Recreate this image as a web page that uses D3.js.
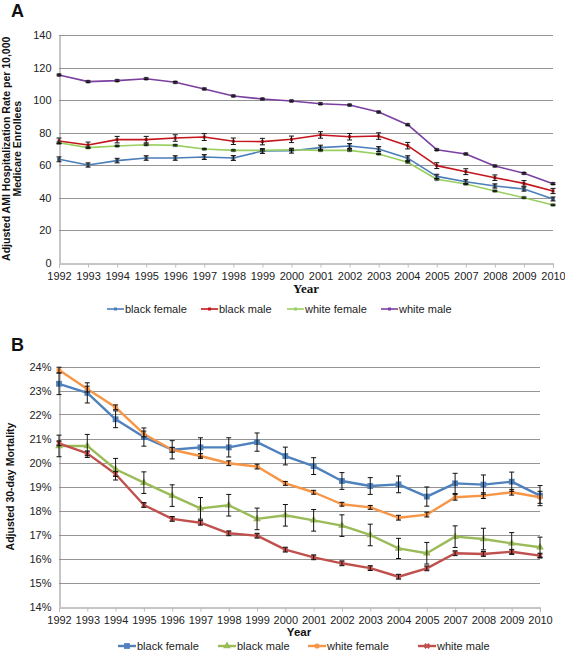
<!DOCTYPE html>
<html><head><meta charset="utf-8">
<script src="https://cdn.jsdelivr.net/npm/d3@7"></script>
<style>
body{margin:0;background:#fff;}
svg{display:block;font-family:"Liberation Sans",Arial,sans-serif;}
</style></head>
<body>
<svg id="chart" width="565" height="654"></svg>
<script>
const years = ["1992","1993","1994","1995","1996","1997","1998","1999","2000","2001","2002","2003","2004","2005","2007","2008","2009","2010"];

// Panel A: Adjusted AMI hospitalization rate per 10,000
const aTicks = [0,20,40,60,80,100,120,140];
const aBlackFemale    = [63.5,60.0,62.7,64.3,64.3,64.9,64.3,68.6,68.8,70.7,71.7,69.8,64.2,53.0,49.7,47.1,45.2,39.1];
const aBlackFemaleErr = [1.5,1.3,1.4,1.4,1.4,1.5,1.5,1.5,1.5,1.5,1.5,1.5,1.5,1.3,1.3,1.3,1.3,1.2];
const aBlackMale      = [74.8,72.3,75.6,75.6,76.6,77.2,74.6,74.4,75.8,78.5,77.4,77.8,71.9,59.6,55.9,52.2,48.7,44.0];
const aBlackMaleErr   = [1.8,1.8,2.0,2.0,2.0,2.1,2.0,2.0,2.0,2.0,2.0,2.0,2.0,1.8,1.8,1.7,1.7,1.6];
const aWhiteFemale    = [73.7,70.7,71.7,72.5,72.1,69.8,69.0,69.0,69.4,69.0,69.0,66.8,61.7,51.2,48.3,44.0,39.9,35.4];
const aWhiteFemaleErr = [0.4,0.4,0.4,0.4,0.4,0.4,0.4,0.4,0.4,0.4,0.4,0.4,0.4,0.4,0.4,0.4,0.4,0.4];
const aWhiteMale      = [115.4,111.3,111.9,113.1,110.9,106.8,102.5,100.6,99.4,97.7,96.9,92.6,84.8,69.4,66.8,59.4,54.9,48.5];
const aWhiteMaleErr   = [0.5,0.5,0.5,0.5,0.5,0.5,0.5,0.5,0.5,0.5,0.5,0.5,0.5,0.5,0.5,0.5,0.5,0.5];

// Panel B: Adjusted 30-day mortality (%)
const bTicks = [14,15,16,17,18,19,20,21,22,23,24];
const bBlackFemale    = [23.28,22.90,21.80,21.06,20.53,20.63,20.63,20.85,20.27,19.85,19.23,19.02,19.09,18.58,19.13,19.08,19.20,18.62];
const bBlackFemaleErr = [0.45,0.42,0.35,0.38,0.38,0.40,0.40,0.38,0.37,0.35,0.35,0.35,0.35,0.40,0.42,0.40,0.40,0.42];
const bBlackMale      = [20.69,20.69,19.72,19.16,18.62,18.09,18.22,17.65,17.80,17.59,17.37,16.98,16.42,16.22,16.91,16.81,16.63,16.47];
const bBlackMaleErr   = [0.45,0.48,0.45,0.45,0.45,0.45,0.45,0.45,0.45,0.45,0.45,0.45,0.42,0.45,0.45,0.45,0.45,0.42];
const bWhiteFemale    = [23.85,23.06,22.30,21.19,20.53,20.27,19.97,19.83,19.13,18.76,18.26,18.13,17.70,17.83,18.55,18.62,18.76,18.55];
const bWhiteFemaleErr = [0.12,0.12,0.10,0.12,0.10,0.10,0.10,0.10,0.08,0.08,0.08,0.08,0.10,0.10,0.12,0.12,0.12,0.25];
const bWhiteMale      = [20.80,20.38,19.52,18.23,17.65,17.49,17.05,16.95,16.37,16.05,15.80,15.60,15.24,15.59,16.22,16.19,16.28,16.12];
const bWhiteMaleErr   = [0.10,0.10,0.10,0.10,0.10,0.10,0.10,0.10,0.10,0.10,0.10,0.10,0.10,0.10,0.10,0.10,0.10,0.10];

const svg = d3.select("#chart");
const SANS = "'Liberation Sans',Arial,sans-serif";

function panel(cfg){
  const g = svg.append("g");
  const x = d3.scalePoint().domain(years).range([cfg.x0, cfg.x1]);
  const y = d3.scaleLinear().domain(cfg.domain).range([cfg.y0, cfg.y1]);

  // gridlines
  g.append("g").selectAll("line").data(cfg.ticks.slice(1)).join("line")
    .attr("x1", cfg.x0).attr("x2", cfg.x1)
    .attr("y1", d=>Math.round(y(d))+0.5).attr("y2", d=>Math.round(y(d))+0.5)
    .attr("stroke", "#959595").attr("stroke-width", 1);

  // y axis
  const ya = g.append("g").attr("transform", `translate(${cfg.x0+0.5},0)`)
    .call(d3.axisLeft(y).tickValues(cfg.ticks).tickSize(0).tickPadding(8).tickFormat(cfg.fmt));
  ya.select(".domain").attr("stroke", "#8c8c8c");
  ya.selectAll("text").attr("font-size", 11).attr("fill", "#222").attr("font-family", SANS);

  // x axis
  const xa = g.append("g").attr("transform", `translate(0,${Math.round(cfg.y0)+0.5})`)
    .call(d3.axisBottom(x).tickSize(4).tickPadding(5));
  xa.select(".domain").attr("stroke", "#8c8c8c");
  xa.selectAll(".tick line").attr("stroke", "#bbb");
  xa.selectAll("text").attr("font-size", 11).attr("fill", "#222").attr("font-family", SANS);

  // lines
  cfg.series.forEach(s=>{
    const line = d3.line().x((d,i)=>x(years[i])).y(d=>y(d));
    g.append("path").datum(s.values).attr("d", line)
      .attr("fill", "none").attr("stroke", s.color).attr("stroke-width", cfg.lw)
      .attr("stroke-linejoin", "round");
  });
  // markers
  cfg.series.forEach(s=>{
    const sym = d3.symbol().type(s.shape).size(cfg.msize * (s.scale||1));
    g.append("g").selectAll("path").data(s.values).join("path")
      .attr("transform", (d,i)=>`translate(${x(years[i])},${y(d)})${s.shape===d3.symbolCross?" rotate(45)":""}`)
      .attr("d", sym).attr("fill", s.mfill || s.color).attr("stroke", s.mstroke || "none").attr("stroke-width", 0.6);
  });
  // error bars
  cfg.series.forEach(s=>{
    const eg = g.append("g").attr("stroke", "#111").attr("stroke-width", 1).attr("fill", "none");
    s.values.forEach((v,i)=>{
      const cx = x(years[i]);
      const t = y(v + s.err[i]), b = y(v - s.err[i]);
      eg.append("path").attr("d", `M${cx},${t}V${b}M${cx-2.5},${t}H${cx+2.5}M${cx-2.5},${b}H${cx+2.5}`);
    });
  });

  // panel letter
  svg.append("text").attr("x", 11).attr("y", cfg.letterY).text(cfg.letter)
    .attr("font-size", 18).attr("font-weight", "bold").attr("fill", "#111").style("font-family", SANS);

  // x title
  svg.append("text").attr("x", cfg.yearX).attr("y", cfg.yearY).attr("text-anchor", "middle")
    .text("Year").attr("font-size", cfg.yearSize).attr("font-weight", "bold")
    .style("font-family", cfg.yearFont).attr("fill", "#111");

  // y title
  const yt = svg.append("text").attr("transform", `translate(0,${(cfg.y0+cfg.y1)/2}) rotate(-90)`)
    .attr("text-anchor", "middle").attr("font-size", cfg.ytSize).attr("font-weight", "bold")
    .attr("fill", "#111").style("font-family", SANS);
  cfg.ytitle.forEach((t,i)=>{
    yt.append("tspan").attr("x", 0).attr("y", cfg.ytX[i]).text(t);
  });

  // legend
  const lg = svg.append("g").attr("transform", `translate(0,${cfg.legY})`);
  cfg.series.forEach((s,i)=>{
    const lx = cfg.legX[i];
    lg.append("line").attr("x1", lx).attr("x2", lx+cfg.legLine).attr("y1", 0).attr("y2", 0)
      .attr("stroke", s.color).attr("stroke-width", cfg.lw);
    lg.append("path").attr("transform", `translate(${lx+cfg.legLine/2},0)${s.shape===d3.symbolCross?" rotate(45)":""}`)
      .attr("d", d3.symbol().type(s.shape).size(cfg.msize*(s.scale||1))).attr("fill", s.mfill || s.color);
    lg.append("text").attr("x", lx+cfg.legLine+1).attr("y", 4).text(s.name)
      .attr("font-size", cfg.legSize).attr("fill", "#222").style("font-family", SANS);
  });
}

panel({
  letter:"A", letterY:17,
  x0:59, x1:553, y0:262.5, y1:35, domain:[0,140], ticks:aTicks, fmt:d=>d,
  lw:1.6, msize:9,
  series:[
    {name:"black female", values:aBlackFemale, err:aBlackFemaleErr, color:"#4a7ebb", shape:d3.symbolSquare, mstroke:"#555"},
    {name:"black male", values:aBlackMale, err:aBlackMaleErr, color:"#c4161c", shape:d3.symbolSquare},
    {name:"white female", values:aWhiteFemale, err:aWhiteFemaleErr, color:"#98cf5f", shape:d3.symbolSquare, mstroke:"#8a8"},
    {name:"white male", values:aWhiteMale, err:aWhiteMaleErr, color:"#7b3fa0", shape:d3.symbolSquare, mstroke:"#555"}
  ],
  yearX:306, yearY:293, yearSize:13, yearFont:"'Liberation Serif','DejaVu Serif',serif",
  ytitle:["Adjusted AMI Hospitalization Rate per 10,000","Medicare Enrollees"], ytX:[10,21], ytSize:10.5,
  legY:309, legX:[107,201,287,381], legLine:17, legSize:11
});

panel({
  letter:"B", letterY:351,
  x0:59, x1:540, y0:606.5, y1:366.5, domain:[14,24], ticks:bTicks, fmt:d=>d+"%",
  lw:2.4, msize:26,
  series:[
    {name:"black female", values:bBlackFemale, err:bBlackFemaleErr, color:"#4f81bd", shape:d3.symbolSquare, scale:1.3},
    {name:"black male", values:bBlackMale, err:bBlackMaleErr, color:"#9bbb59", shape:d3.symbolTriangle, scale:1.0},
    {name:"white female", values:bWhiteFemale, err:bWhiteFemaleErr, color:"#f79646", shape:d3.symbolCircle, scale:0.8},
    {name:"white male", values:bWhiteMale, err:bWhiteMaleErr, color:"#c0504d", shape:d3.symbolCross, scale:0.8}
  ],
  yearX:299, yearY:636, yearSize:11.5, yearFont:SANS,
  ytitle:["Adjusted 30-day Mortality"], ytX:[14], ytSize:10.5,
  legY:646, legX:[118,218,308,418], legLine:18, legSize:11
});
</script>
</body></html>
